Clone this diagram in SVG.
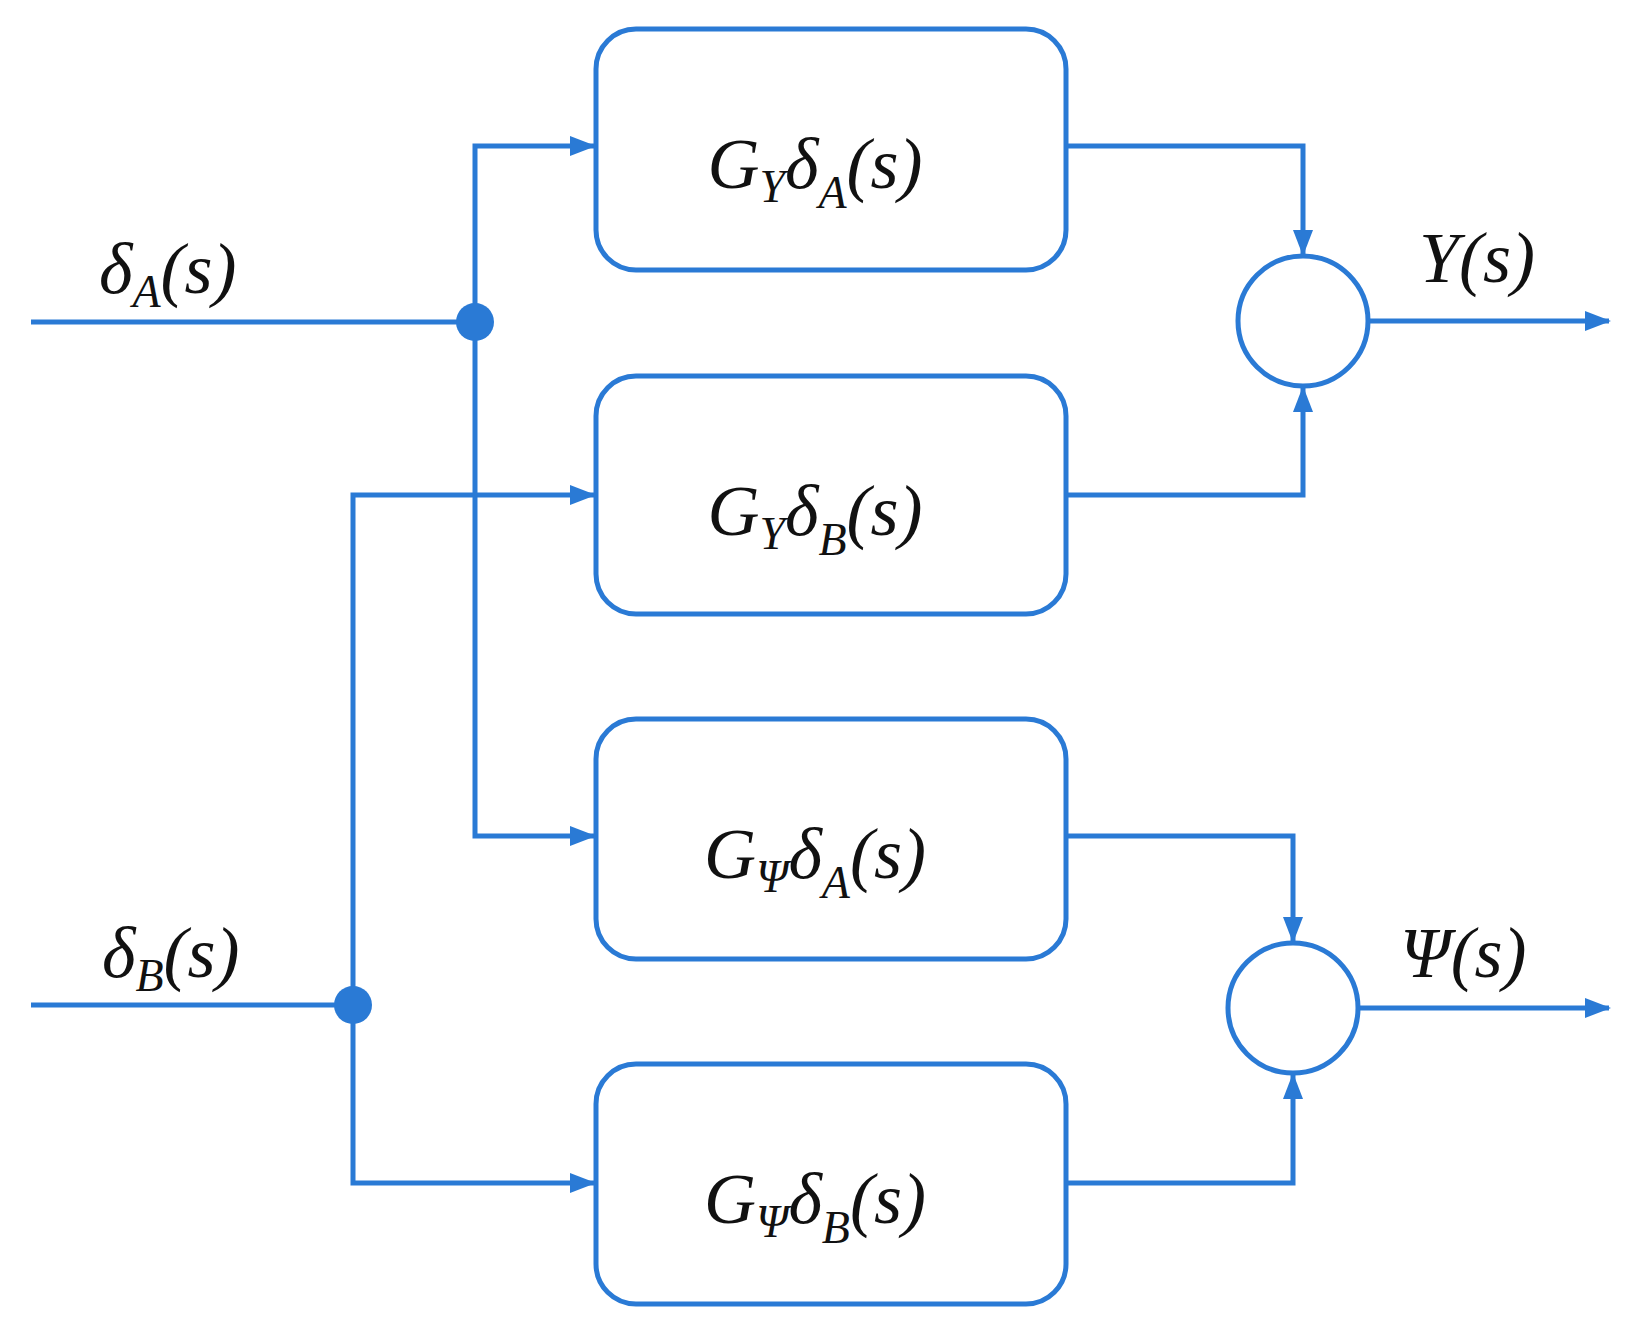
<svg xmlns="http://www.w3.org/2000/svg" width="1630" height="1328" viewBox="0 0 1630 1328">
<style>
.b{fill:#fff;stroke:#2a7ad5;stroke-width:5}
.l{fill:none;stroke:#2a7ad5;stroke-width:5}
text{font-family:"Liberation Serif",serif;font-style:italic;fill:#111;font-size:72px}
.s{font-size:46px}
</style>
<defs><marker id="a" markerWidth="10" markerHeight="8" refX="9" refY="4" orient="auto" markerUnits="userSpaceOnUse" viewBox="0 0 10 8"><path d="M0,0L10,4L0,8z" fill="#2a7ad5"/></marker>
<marker id="ar" markerWidth="26" markerHeight="20" refX="24" refY="10" orient="auto" markerUnits="userSpaceOnUse"><path d="M0,0L26,10L0,20z" fill="#2a7ad5"/></marker></defs>
<rect width="1630" height="1328" fill="#fff"/>
<g id="connectors">
<path class="l" d="M31,322H475"/>
<path class="l" d="M475,322V146H594" marker-end="url(#ar)"/>
<path class="l" d="M475,322V836H594" marker-end="url(#ar)"/>
<path class="l" d="M31,1005H353"/>
<path class="l" d="M353,1005V495H594" marker-end="url(#ar)"/>
<path class="l" d="M353,1005V1183H594" marker-end="url(#ar)"/>
<path class="l" d="M1066,146H1303V254" marker-end="url(#ar)"/>
<path class="l" d="M1066,495H1303V388" marker-end="url(#ar)"/>
<path class="l" d="M1066,836H1293V941" marker-end="url(#ar)"/>
<path class="l" d="M1066,1183H1293V1075" marker-end="url(#ar)"/>
<path class="l" d="M1368,321H1609" marker-end="url(#ar)"/>
<path class="l" d="M1358,1008H1609" marker-end="url(#ar)"/>
<circle cx="475" cy="322" r="19" fill="#2a7ad5"/>
<circle cx="353" cy="1005" r="19" fill="#2a7ad5"/>
</g>
<g id="in1"><text x="99" y="293">δ<tspan class="s" dy="14">A</tspan><tspan dy="-14">(s)</tspan></text></g>
<g id="in2"><text x="102" y="977">δ<tspan class="s" dy="14">B</tspan><tspan dy="-14">(s)</tspan></text></g>
<g id="out1"><text x="1419" y="282">Y(s)</text></g>
<g id="out2"><text x="1400" y="977">Ψ(s)</text></g>
<g id="b1"><rect class="b" x="596" y="29" width="470" height="241" rx="40"/><text x="815" y="188" text-anchor="middle">G<tspan class="s" dy="14">Y</tspan><tspan dy="-14">δ</tspan><tspan class="s" dy="20">A</tspan><tspan dy="-20">(s)</tspan></text></g>
<g id="b2"><rect class="b" x="596" y="376" width="470" height="238" rx="40"/><text x="815" y="535" text-anchor="middle">G<tspan class="s" dy="14">Y</tspan><tspan dy="-14">δ</tspan><tspan class="s" dy="20">B</tspan><tspan dy="-20">(s)</tspan></text></g>
<g id="b3"><rect class="b" x="596" y="719" width="470" height="240" rx="40"/><text x="815" y="878" text-anchor="middle">G<tspan class="s" dy="14">Ψ</tspan><tspan dy="-14">δ</tspan><tspan class="s" dy="20">A</tspan><tspan dy="-20">(s)</tspan></text></g>
<g id="b4"><rect class="b" x="596" y="1064" width="470" height="240" rx="40"/><text x="815" y="1223" text-anchor="middle">G<tspan class="s" dy="14">Ψ</tspan><tspan dy="-14">δ</tspan><tspan class="s" dy="20">B</tspan><tspan dy="-20">(s)</tspan></text></g>
<g id="sum1"><circle class="b" cx="1303" cy="321" r="65"/></g>
<g id="sum2"><circle class="b" cx="1293" cy="1008" r="65"/></g>
</svg>
